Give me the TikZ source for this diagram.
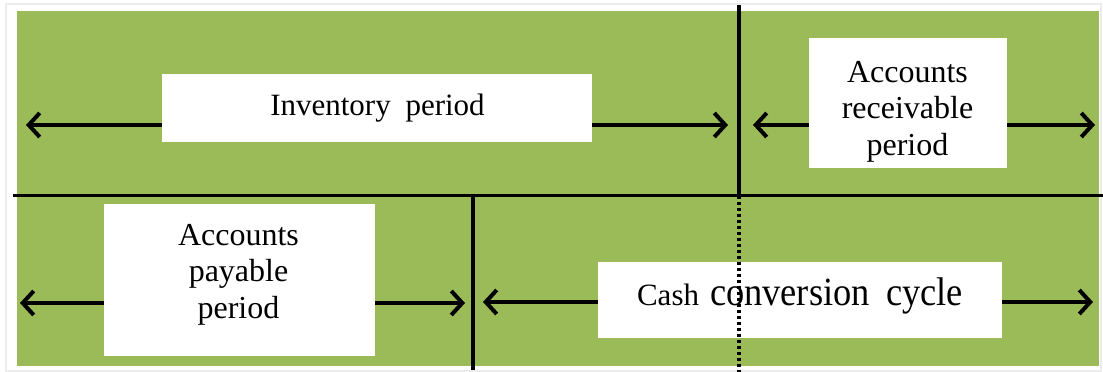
\documentclass[tikz,border=0pt]{standalone}
\usepackage{fontspec}
\setmainfont{Liberation Serif}
\usetikzlibrary{arrows.meta}
\definecolor{olivegreen}{HTML}{9BBB59}
\tikzset{
  whitebox/.style={fill=white, draw=none, inner sep=0pt},
  boxtext/.style={inner sep=0pt, anchor=base, font=\fontsize{32}{36.5}\selectfont},
  period/.style={line width=4pt, -{Straight Barb[length=11pt,width=24pt,line width=4pt]}},
  divider/.style={line width=3.5pt, black},
  dotdiv/.style={line width=3.5pt, black, dash pattern=on 3.5pt off 2.5pt}
}
\begin{document}
\begin{tikzpicture}[x=1pt,y=-1pt]
\useasboundingbox (0,0) rectangle (1103,372);
\fill[white] (0,0) rectangle (1103,372);
\draw[gray!15, line width=2pt] (6,4) rectangle (1101,371);
\fill[olivegreen] (17,11) rectangle (1099,366);

% boxes
\node[whitebox, minimum width=430pt, minimum height=68pt] (inv) at (377,108) {};
\node[whitebox, minimum width=198pt, minimum height=130pt] (ar) at (908,103) {};
\node[whitebox, minimum width=271pt, minimum height=152pt] (ap) at (239.5,280) {};
\node[whitebox, minimum width=404pt, minimum height=76pt] (ccc) at (800,300) {};

% texts
\node[boxtext, font=\fontsize{31}{36}\selectfont] (invtext) at (377.5,115)
  {Inventory\hspace{7pt} period};
\node[boxtext] (artext) at (907.5,82)
  {\parbox[t]{190pt}{\centering Accounts\\ receivable\\ period}};
\node[boxtext] (aptext) at (238.5,245)
  {\parbox[t]{260pt}{\centering Accounts\\ payable\\ period}};
\node[boxtext] (ccctext) at (800,305)
  {{\fontsize{31}{36}\selectfont Cash}\hspace{3pt} \scalebox{0.91}[1]{\fontsize{40}{44}\selectfont conversion\hspace{8pt} cycle}};

% arrow tips
\coordinate (t1) at (26,125);
\coordinate (t2) at (728,125);
\coordinate (t3) at (753,125);
\coordinate (t4) at (1095,125);
\coordinate (t5) at (20,303);
\coordinate (t6) at (465,303);
\coordinate (t7) at (483,302);
\coordinate (t8) at (1093,302);

\draw[period] (inv.west |- t1) -- (t1);
\draw[period] (inv.east |- t2) -- (t2);
\draw[period] (ar.west |- t3) -- (t3);
\draw[period] (ar.east |- t4) -- (t4);
\draw[period] (ap.west |- t5) -- (t5);
\draw[period] (ap.east |- t6) -- (t6);
\draw[period] (ccc.west |- t7) -- (t7);
\draw[period] (ccc.east |- t8) -- (t8);

% dividers
\coordinate (hl) at (13,195.5);
\coordinate (hr) at (1103,195.5);
\coordinate (vtop) at (739,5);
\coordinate (vmid) at (739,195.5);
\coordinate (vbot) at (739,372);
\coordinate (ltop) at (473,195.5);
\coordinate (lbot) at (473,370);
\draw[divider] (hl) -- (hr);
\draw[divider] (vtop) -- (vmid);
\draw[divider] (ltop) -- (lbot);
\draw[dotdiv] (vmid) -- (vbot);
\end{tikzpicture}
\end{document}
